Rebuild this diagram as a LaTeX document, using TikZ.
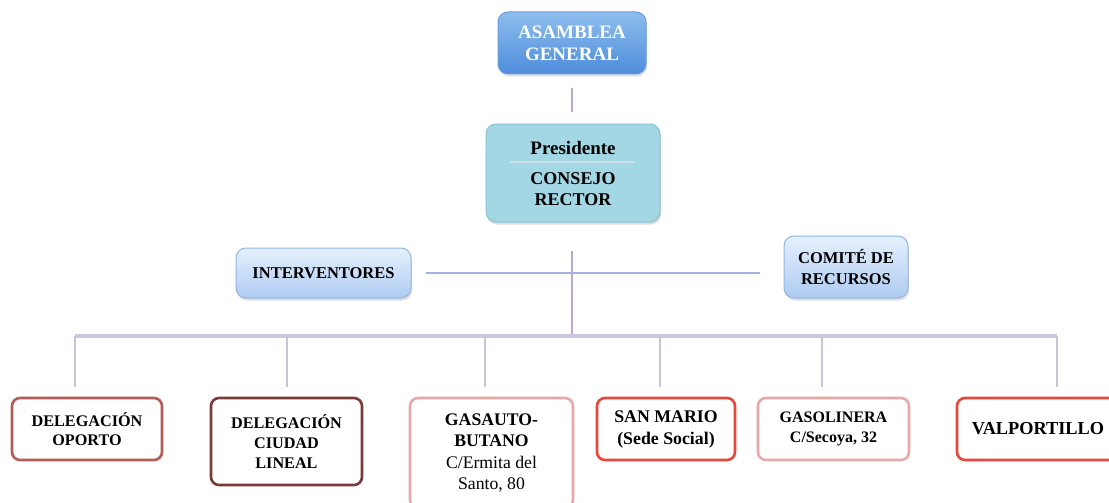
\documentclass[tikz,border=0pt]{standalone}
\usepackage{fontspec}
\setmainfont{Liberation Serif}
\usetikzlibrary{shadows}
\definecolor{asTop}{HTML}{8DBEEE}
\definecolor{asBot}{HTML}{4E8CDB}
\definecolor{asLine}{HTML}{6A9DDB}
\definecolor{prFill}{HTML}{A3D7E3}
\definecolor{prLine}{HTML}{86C3D3}
\definecolor{lbTop}{HTML}{E6F0FC}
\definecolor{lbBot}{HTML}{ADCBF1}
\definecolor{lbLine}{HTML}{93B5E3}
\definecolor{connA}{HTML}{B9A9CD}
\definecolor{connB}{HTML}{A9B1DD}
\definecolor{busC}{HTML}{CFC7DF}
\definecolor{dropC}{HTML}{CBC3DA}
\definecolor{sepC}{HTML}{CADFE6}
\definecolor{cOporto}{HTML}{B55A55}
\definecolor{cCiudad}{HTML}{7A3B38}
\definecolor{cPink}{HTML}{E6A9A7}
\definecolor{cRed}{HTML}{E8473A}
\begin{document}
\begin{tikzpicture}[x=1pt,y=-1pt,
  every node/.style={inner sep=0pt, align=center},
  topbox/.style={rounded corners=10pt, draw=lbLine, line width=1pt,
    top color=lbTop, bottom color=lbBot,
    drop shadow={opacity=0.25, shadow xshift=1pt, shadow yshift=-2.5pt}},
  lowbox/.style={rounded corners=8pt, draw, line width=2.6pt, fill=white},
  conn/.style={line width=2pt}
]
\useasboundingbox (0,0) rectangle (1109,503);
\clip (0,0) rectangle (1109,503);

% top boxes
\node[topbox, draw=asLine, top color=asTop, bottom color=asBot,
      minimum width=148pt, minimum height=62pt, text=white,
      font=\bfseries\fontsize{19}{22}\selectfont]
  (asamblea) at (572,43) {ASAMBLEA\\GENERAL};
\node[topbox, draw=prLine, top color=prFill, bottom color=prFill,
      minimum width=174pt, minimum height=98pt,
      font=\bfseries\fontsize{18}{21}\selectfont]
  (presidente) at (573,173) {{\fontsize{19}{21}\selectfont Presidente}\\[9pt]CONSEJO\\RECTOR};
\draw[sepC, line width=2pt] ([xshift=-63pt,yshift=11pt]presidente.center) -- ([xshift=62pt,yshift=11pt]presidente.center);
\node[topbox, minimum width=175pt, minimum height=50pt,
      font=\bfseries\fontsize{16.5}{20}\selectfont]
  (interv) at (323.5,273) {INTERVENTORES};
\node[topbox, minimum width=124pt, minimum height=62pt,
      font=\bfseries\fontsize{16.5}{21}\selectfont]
  (comite) at (846,267) {COMITÉ DE\\RECURSOS};

% bottom boxes
\node[lowbox, draw=cOporto, minimum width=150pt, minimum height=62pt,
      font=\bfseries\fontsize{16.2}{19.5}\selectfont]
  (oporto) at (87,429) {DELEGACIÓN\\OPORTO};
\node[lowbox, draw=cCiudad, minimum width=151pt, minimum height=87pt,
      font=\bfseries\fontsize{16.2}{20}\selectfont]
  (ciudad) at (286.5,441.5) {DELEGACIÓN\\CIUDAD\\LINEAL};
\node[lowbox, draw=cPink, minimum width=163pt, minimum height=110pt,
      font=\fontsize{17.7}{21.3}\selectfont]
  (gasauto) at (491.5,453) {\textbf{GASAUTO-}\\\textbf{BUTANO}\\C/Ermita del\\Santo, 80};
\node[lowbox, draw=cRed, minimum width=138pt, minimum height=62pt,
      font=\bfseries\fontsize{17.8}{22}\selectfont]
  (sanmario) at (666,429) {SAN MARIO\\(Sede Social)};
\node[lowbox, draw=cPink, minimum width=151pt, minimum height=62pt,
      font=\bfseries\fontsize{16}{19.5}\selectfont]
  (gasolinera) at (833.5,429) {GASOLINERA\\C/Secoya, 32};
\node[lowbox, draw=cRed, minimum width=162pt, minimum height=62pt,
      font=\bfseries\fontsize{18.3}{21}\selectfont]
  (valport) at (1038,429) {VALPORTILLO};

% connectors
\coordinate (busmid) at (572,336);
\coordinate (busL) at (75,336);
\coordinate (busR) at (1057,336);
\coordinate (d1) at (75,336);
\coordinate (d2) at (287,336);
\coordinate (d3) at (485,336);
\coordinate (d4) at (660,336);
\coordinate (d5) at (822,336);
\coordinate (d6) at (1057,336);

\draw[conn, connA, shorten <=14pt, shorten >=12pt] (asamblea.south) -- (asamblea.south |- presidente.north);
\draw[conn, connA, shorten <=28pt] (presidente.south -| busmid) -- (busmid);
\draw[conn, connB, line width=2.5pt, shorten <=14pt, shorten >=24pt] (interv.east) -- (interv.east -| comite.west);
\draw[busC, line width=4pt] (busL) -- (busR);
\foreach \d/\b in {d1/oporto, d2/ciudad, d3/gasauto, d4/sanmario, d5/gasolinera, d6/valport}
  \draw[conn, dropC, shorten >=10pt] (\d) -- (\d |- \b.north);
\end{tikzpicture}
\end{document}
